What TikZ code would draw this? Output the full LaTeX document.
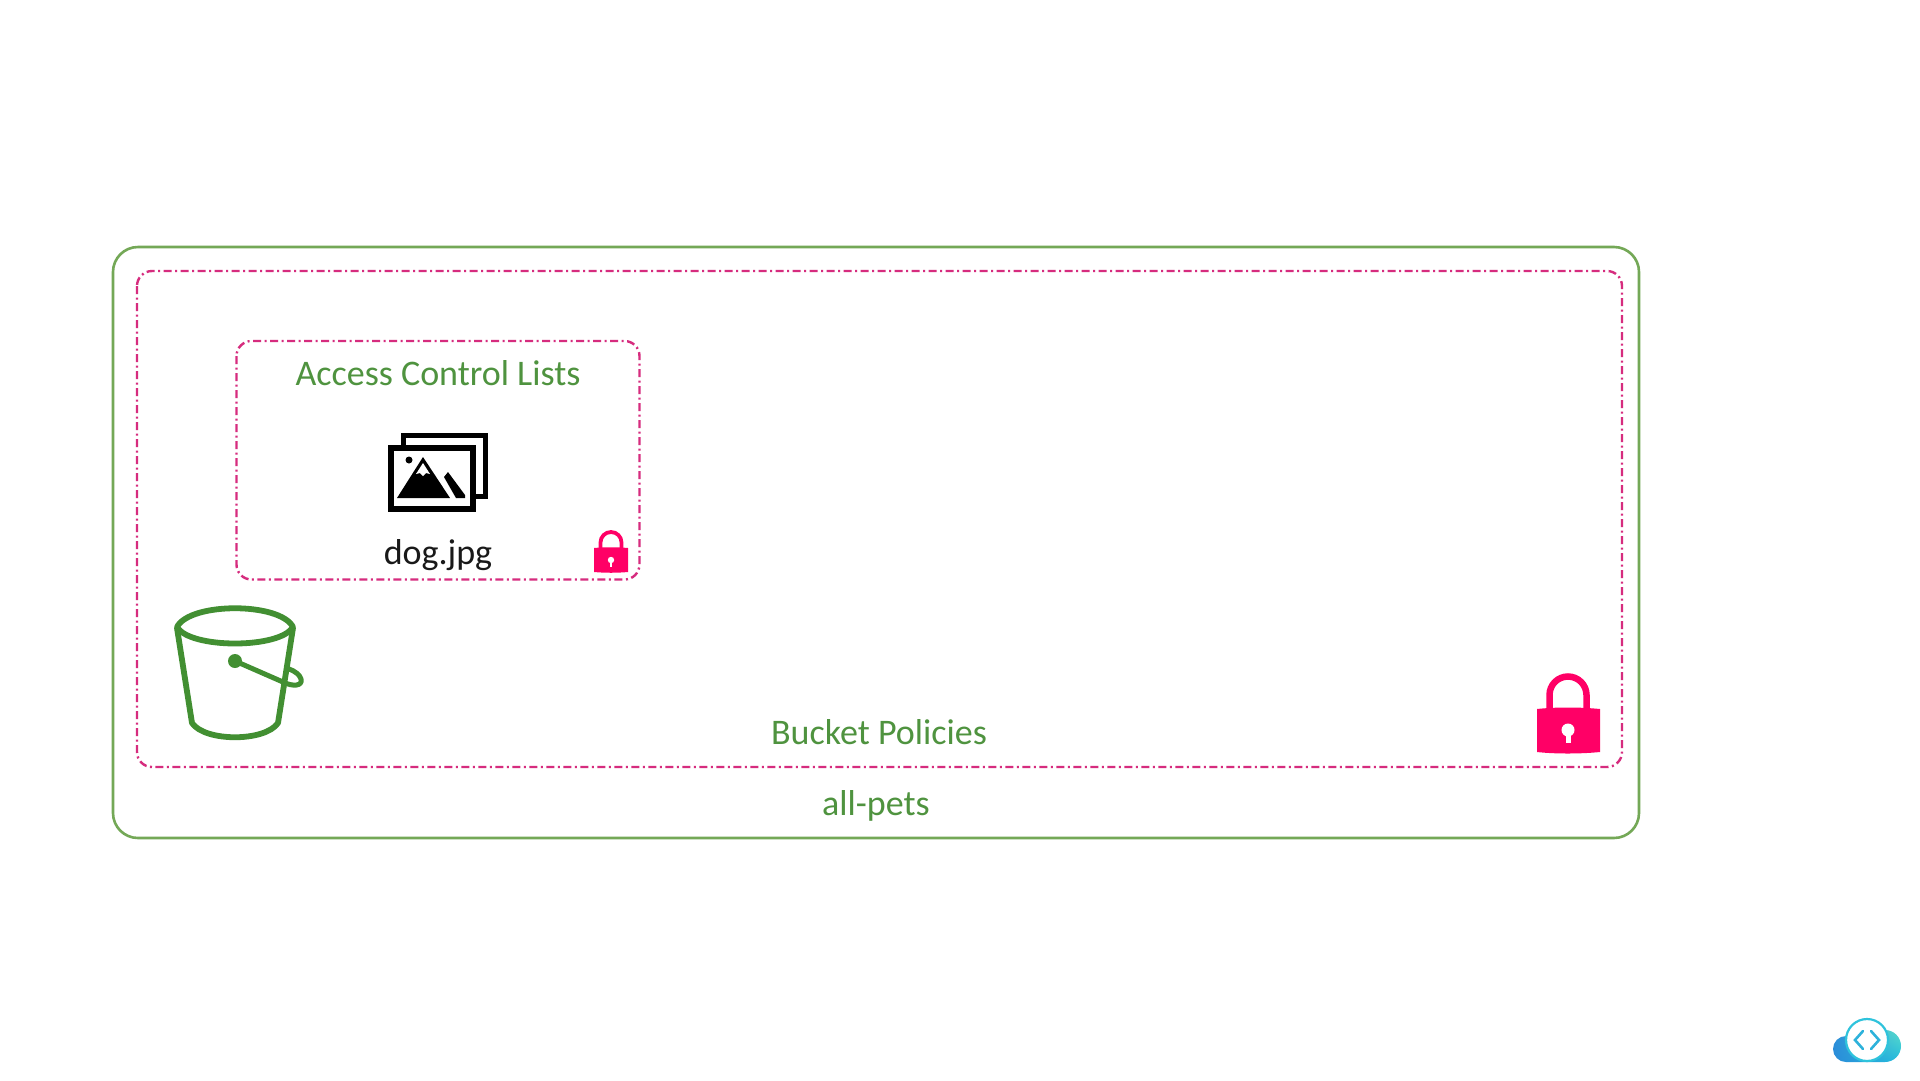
\documentclass[tikz,border=0pt]{standalone}
\usepackage{fontspec}
\usetikzlibrary{shadings}
\setmainfont{Carlito}
\definecolor{boxgreen}{HTML}{74A857}
\definecolor{txtgreen}{HTML}{4F933F}
\definecolor{bucketgreen}{HTML}{428F32}
\definecolor{dashpink}{HTML}{D62C7E}
\definecolor{lockpink}{HTML}{FF0066}
\definecolor{logoblue}{HTML}{2A8CD9}
\definecolor{logomid}{HTML}{22BBDD}
\definecolor{logoteal}{HTML}{5ADCCB}
\definecolor{logoring}{HTML}{2FC3DC}
\tikzset{
  x=1pt,y=-1pt,
  outerbox/.style={draw=boxgreen,line width=2.6pt,rounded corners=25pt},
  dashbox/.style={draw=dashpink,line width=2.4pt,rounded corners=15pt,dash pattern=on 8pt off 3.5pt on 2pt off 3.5pt},
  lbl/.style={inner sep=0pt,anchor=base,font=\fontsize{36}{42}\selectfont},
  greenlbl/.style={lbl,text=txtgreen},
  bucketline/.style={draw=bucketgreen,line width=5.8pt,line cap=round,line join=round},
}
\begin{document}
\begin{tikzpicture}
\useasboundingbox[fill=white] (0,0) rectangle (1920,1080);
% boxes
\draw[outerbox] (113,247) rectangle (1639,838);
\draw[dashbox] (137,271) rectangle (1622,767);
\draw[dashbox] (236.5,341) rectangle (639.5,579.5);
% labels
\node[greenlbl] (acl) at (438,385) {Access Control Lists};
\node[lbl,text=black!90] (dog) at (438,564) {dog.jpg};
\node[greenlbl] (policies) at (879,744) {Bucket Policies};
\node[greenlbl] (allpets) at (876,815) {all-pets};
% image icon
\draw[black,line width=5.5pt,miter limit=10] (403.5,435.5) rectangle (485.5,496.5);
\draw[black,fill=white,line width=6pt] (391,448) rectangle (473,509);
\fill[black] (423,457) -- (397,498) -- (450,498) -- cycle;
\fill[white] (423,463) -- (416,474) -- (420,473) -- (423,476) -- (426,473) -- (430,474) -- cycle;
\fill[black] (409,460) circle (3.5);
\fill[black] (444,477) -- (448,472) -- (465,495) -- (465,498) -- (456,498) -- cycle;
% bucket
\draw[bucketline] (177,627) .. controls (190,602) and (280,602) .. (293,627) .. controls (280,649) and (190,649) .. (177,627) -- cycle;
\draw[bucketline] (177,628) -- (192,723) .. controls (205,742) and (265,742) .. (278,723) -- (293,628);
\fill[bucketgreen] (235,661) circle (7);
\draw[bucketline,line width=5pt] (235,661) -- (283,682) .. controls (293,687) and (303,686) .. (301,679) .. controls (300,675) and (295,671) .. (289,669);
% big lock
\draw[lockpink,line width=6.5pt] (1549.5,709) -- (1549.5,695) arc[start angle=180,end angle=360,radius=18.5] -- (1586.5,709);
\fill[lockpink] (1537,709) .. controls (1555,707) and (1580,707) .. (1600,709) -- (1600,752) .. controls (1580,754) and (1555,754) .. (1537,752) -- cycle;
\fill[white] (1568,730) circle (6.5);
\fill[white] (1565.5,732) rectangle (1570.5,743);
% small lock
\draw[lockpink,line width=3.8pt] (600.5,550) -- (600.5,542.5) arc[start angle=180,end angle=360,radius=10.5] -- (621.5,550);
\fill[lockpink] (594,548) .. controls (605,547) and (617,547) .. (628,548) -- (628,572) .. controls (617,573) and (605,573) .. (594,572) -- cycle;
\fill[white] (611,560) circle (3.2);
\fill[white] (609.8,561) rectangle (612.2,567);
% logo
\shade[lower left=logoblue,lower right=logomid,upper left=logoblue,upper right=logoteal]
  (1846,1062) arc[start angle=90,end angle=270,radius=13]
  -- (1860,1036) -- (1885,1030) arc[start angle=270,end angle=450,radius=16] -- cycle;
\draw[logoring,fill=white,line width=2.2pt] (1867,1040) circle (21);
\draw[logoring!70!logoblue,line width=2.6pt,line cap=round,line join=miter] (1863,1031) -- (1855,1040) -- (1863,1049);
\draw[logoring!70!logoblue,line width=2.6pt,line cap=round,line join=miter] (1871,1031) -- (1879,1040) -- (1871,1049);
\end{tikzpicture}
\end{document}
